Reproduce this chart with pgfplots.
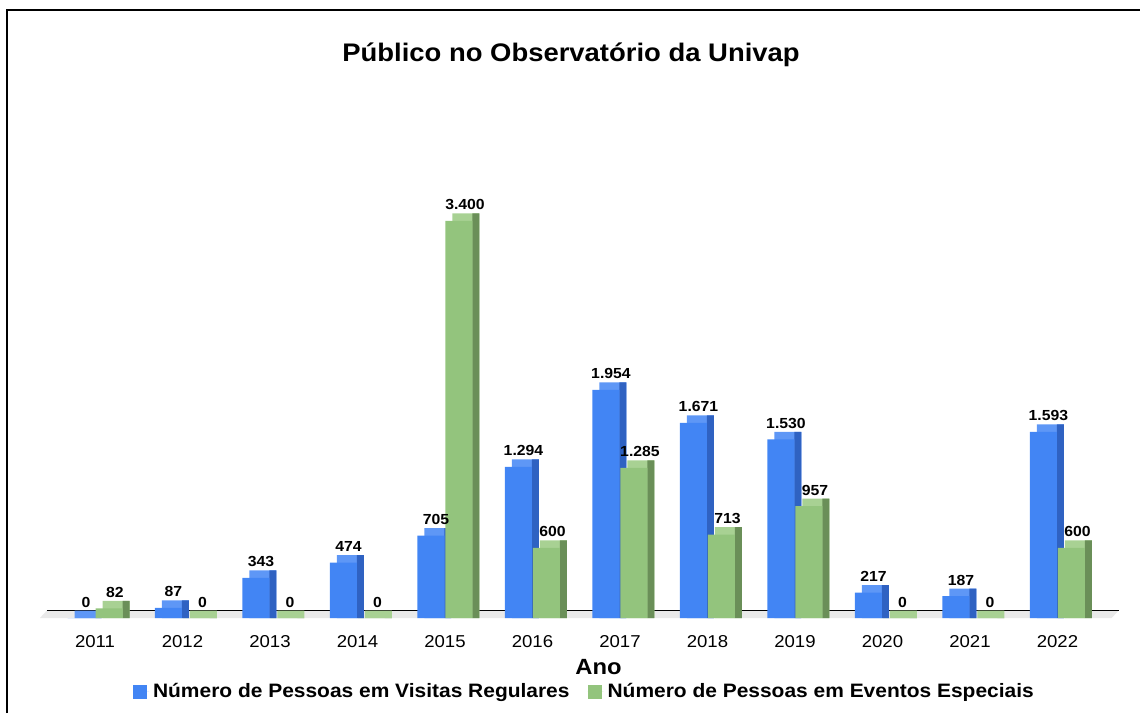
\documentclass[border=0pt]{standalone}
\usepackage{fontspec}
\setmainfont[FakeStretch=1.08]{Liberation Sans}
\usepackage{pgfplots}
\usepackage{pgfplotstable}
\pgfplotsset{compat=1.18}
\definecolor{bluefront}{HTML}{4285F4}
\definecolor{bluetop}{HTML}{5E97F6}
\definecolor{blueside}{HTML}{2F62C2}
\definecolor{greenfront}{HTML}{93C47D}
\definecolor{greentop}{HTML}{A8D193}
\definecolor{greenside}{HTML}{6A8F58}
\definecolor{floorc}{HTML}{E9E9E9}
\pgfplotstableread{
x blue green
0 0 82
1 87 0
2 343 0
3 474 0
4 705 3400
5 1294 600
6 1954 1285
7 1671 713
8 1530 957
9 217 0
10 187 0
11 1593 600
}\datatable
\begin{document}
\begin{tikzpicture}
\path[use as bounding box] (0,0) rectangle (570pt,356.5pt);
\draw[line width=1pt] (3.5pt,0) -- (3.5pt,351.25pt) -- (572pt,351.25pt);
\node[anchor=base, font=\bfseries\fontsize{12.7}{14}\selectfont] at (285.5pt,325.5pt) {Público no Observatório da Univap};
\begin{axis}[
  at={(19.94pt,47.5pt)}, anchor=south west,
  scale only axis, width=535.9pt, height=233.6pt,
  xmin=-0.63, xmax=11.62, ymin=0, ymax=4000,
  axis x line=bottom, axis y line=none, axis line style={draw=none},
  xtick={0,1,2,3,4,5,6,7,8,9,10,11},
  xticklabels={2011,2012,2013,2014,2015,2016,2017,2018,2019,2020,2021,2022},
  major tick length=0pt,
  xticklabel style={anchor=north, inner sep=0pt, yshift=-8.5pt, font=\fontsize{8.6}{10}\selectfont},
  clip=false,
  /pgf/number format/.cd, 1000 sep={.}, assume math mode=true, /pgfplots/.cd,
  legend style={at={(0.509,-0.158)}, anchor=center, draw=none, fill=none,
    legend columns=2, font=\bfseries\fontsize{9.7}{11}\selectfont,
    /tikz/every even column/.append style={column sep=7pt}},
]
\fill[floorc] (axis cs:-0.63,0) -- (axis cs:11.62,0) -- ([shift={(3.5pt,3.75pt)}]axis cs:11.62,0) -- ([shift={(3.5pt,3.75pt)}]axis cs:-0.63,0) -- cycle;
\draw[line width=0.7pt] ([shift={(3.5pt,3.75pt)}]axis cs:-0.63,0) -- ([shift={(3.5pt,3.75pt)}]axis cs:11.62,0);
% blue series
\addplot[ybar, bar width=13.5pt, bar shift=-3.5pt, fill=bluetop, draw=none, forget plot] table[x=x, y expr=\thisrow{blue}+64] {\datatable};
\addplot[ybar, bar width=3.5pt, bar shift=1.5pt, fill=blueside, draw=none, forget plot] table[x=x, y expr={\thisrow{blue}>0 ? \thisrow{blue}+64 : 0}] {\datatable};
\addplot[ybar, bar width=13.5pt, bar shift=-7pt, fill=bluefront, draw=none,
  nodes near coords,
  every node near coord/.append style={font=\bfseries\fontsize{7.3}{8}\selectfont, anchor=base, inner sep=0pt, yshift=5.5pt, xshift=-4.5pt, text=black},
  legend image code/.code={\fill[bluefront] (0pt,-3.5pt) rectangle (7pt,3.5pt); \path (0pt,0pt) -- (8pt,0pt);}] table[x=x, y=blue] {\datatable};
\addlegendentry{Número de Pessoas em Visitas Regulares}
% green series
\addplot[ybar, bar width=13.5pt, bar shift=10.5pt, fill=greentop, draw=none, forget plot] table[x=x, y expr=\thisrow{green}+64] {\datatable};
\addplot[ybar, bar width=3.5pt, bar shift=15.5pt, fill=greenside, draw=none, forget plot] table[x=x, y expr={\thisrow{green}>0 ? \thisrow{green}+64 : 0}] {\datatable};
\addplot[ybar, bar width=13.5pt, bar shift=7pt, fill=greenfront, draw=none,
  nodes near coords,
  every node near coord/.append style={font=\bfseries\fontsize{7.3}{8}\selectfont, anchor=base, inner sep=0pt, yshift=5.5pt, xshift=10pt, text=black},
  legend image code/.code={\fill[greenfront] (0pt,-3.5pt) rectangle (7pt,3.5pt); \path (0pt,0pt) -- (8pt,0pt);}] table[x=x, y=green] {\datatable};
\addlegendentry{Número de Pessoas em Eventos Especiais}
\end{axis}
\node[anchor=base, font=\bfseries\fontsize{11}{13}\selectfont] at (299.25pt,19.5pt) {Ano};
\end{tikzpicture}
\end{document}
